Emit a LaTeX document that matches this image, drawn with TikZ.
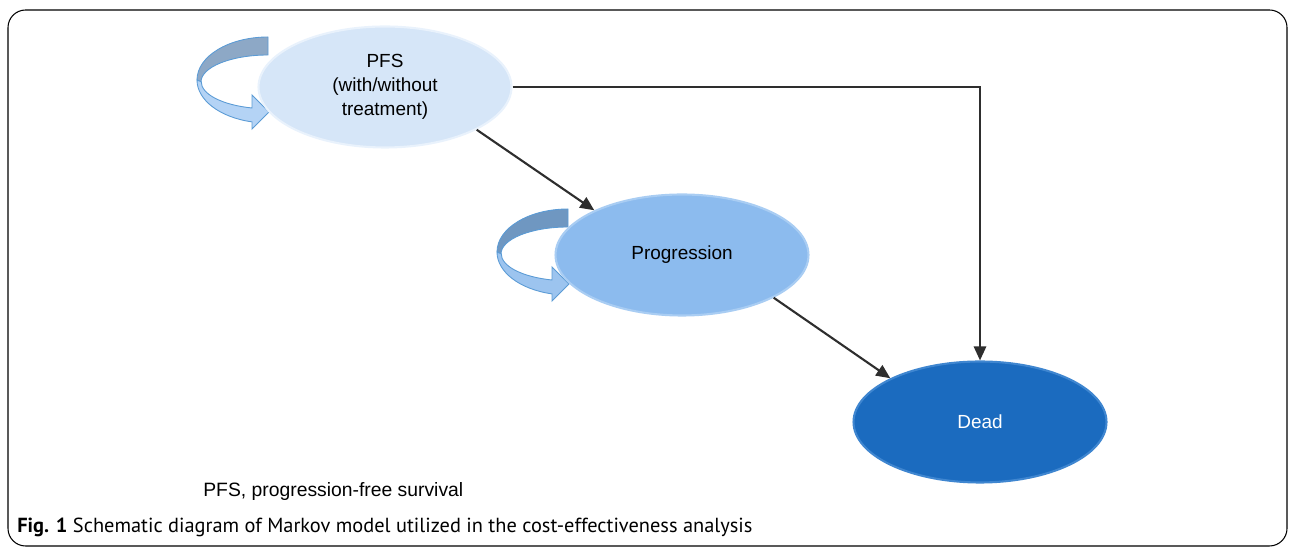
\documentclass[tikz,border=0pt]{standalone}
\usepackage{fontspec}
\setmainfont{Liberation Sans}
\newfontfamily\capfont{PT Sans}
\usetikzlibrary{shapes.geometric}
\usetikzlibrary{arrows.meta}
\definecolor{pfsblue}{HTML}{D6E6F8}
\definecolor{pfsedge}{HTML}{E9F2FC}
\definecolor{progblue}{HTML}{8CBBEE}
\definecolor{progedge}{HTML}{A9CDF3}
\definecolor{deadblue}{HTML}{1B6BBF}
\definecolor{deadedge}{HTML}{3F86D0}
\definecolor{loopdark}{HTML}{8DA8C6}
\definecolor{looplight}{HTML}{B4D3F5}
\definecolor{loopdarkb}{HTML}{6F97C1}
\definecolor{looplightb}{HTML}{9CC4EF}
\definecolor{loopedge}{HTML}{5B9BD5}
\definecolor{arrowgray}{HTML}{2E2E2E}

\begin{document}
\begin{tikzpicture}[x=0.02cm,y=0.02cm]
\tikzset{edge/.style = {-{Triangle[length=8pt,width=7pt]}, line width=1.2pt, draw=arrowgray}}
\tikzset{state/.style = {ellipse, minimum width=5.06cm, minimum height=2.42cm, inner sep=0pt,
  align=center, line width=1.2pt, font=\fontsize{10.8}{13.8}\selectfont}}

   \useasboundingbox (0,0) rectangle (1295,550);
   \draw[rounded corners=10pt, line width=0.6pt] (8,4) rectangle (1287,540);

   % self loops
   \foreach \dx/\dy/\dk/\lt in {0/0/loopdark/looplight, 300/-172/loopdarkb/looplightb}
     {\begin{scope}[shift={(\dx,\dy)}]
       \filldraw[fill=\dk, draw=loopedge, line width=0.5pt] (268,513)
         arc[start angle=90, end angle=180, x radius=71, y radius=43] -- (201,468)
         arc[start angle=180, end angle=90, x radius=67, y radius=27] -- cycle;
       \filldraw[fill=\lt, draw=loopedge, line width=0.5pt] (197,470)
         arc[start angle=180, end angle=257, x radius=71, y radius=43]
         -- (252,421) -- (269,438) -- (252,455) -- (252,442)
         arc[start angle=256, end angle=180, x radius=67, y radius=27] -- cycle;
     \end{scope}}

   \node[state, fill=pfsblue, draw=pfsedge] (pfs) at (385,463) {PFS\\(with/without\\treatment)};
   \node[state, fill=progblue, draw=progedge] (prog) at (682,295) {Progression};
   \node[state, fill=deadblue, draw=deadedge, text=white] (dead) at (980,128) {Dead};

   \draw[edge] (pfs.-25) -- (prog.153);
   \draw[edge] (prog.-25) -- (dead.154);
   \draw[edge] (pfs.east) -| (dead.north);

   \node[anchor=base west, inner sep=0pt, font=\fontsize{11}{12}\selectfont] (abbr) at (203,53) {PFS, progression-free survival};
   \node[anchor=base west, inner sep=0pt, font=\capfont\fontsize{11.6}{13}\selectfont] (caption) at (17,17)
     {\textbf{Fig. 1} Schematic diagram of Markov model utilized in the cost-effectiveness analysis};
\end{tikzpicture}
\end{document}
